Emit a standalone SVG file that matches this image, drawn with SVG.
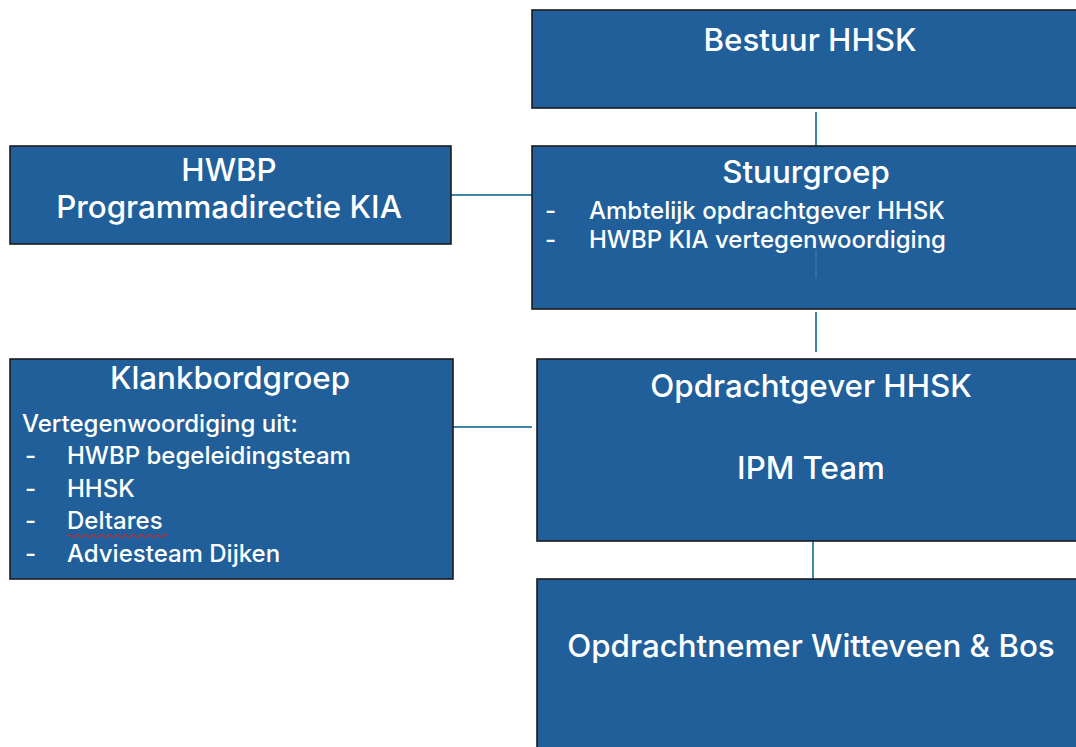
<svg xmlns="http://www.w3.org/2000/svg" width="1076" height="747" viewBox="0 0 1076 747">
<style>
.box{fill:#215f9a;stroke:#1c1c1c;stroke-width:1.6}
.t{font-family:Inter,"Liberation Sans",sans-serif;fill:#fff;font-weight:500}
.h{font-size:31.3px;text-anchor:middle}
.b{font-size:24px}
.c{stroke:#3f86a8;stroke-width:2;fill:none}
</style>
<rect width="1076" height="747" fill="#fff"/>
<g id="connectors">
<line class="c" x1="816" y1="112" x2="816" y2="146"/>
<line class="c" x1="451" y1="195" x2="532" y2="195"/>
<line class="c" x1="816" y1="312" x2="816" y2="352"/>
<line class="c" x1="453" y1="427" x2="532" y2="427"/>
<line class="c" x1="813" y1="541" x2="813" y2="579"/>
</g>
<g id="bestuur">
<rect class="box" x="532" y="10" width="560" height="98"/>
<text class="t h" x="810" y="51">Bestuur HHSK</text>
</g>
<g id="hwbp">
<rect class="box" x="10" y="146" width="441" height="98"/>
<text class="t h" x="229" y="181">HWBP</text>
<text class="t h" x="229" y="218">Programmadirectie KIA</text>
</g>
<g id="stuurgroep">
<rect class="box" x="532" y="146" width="560" height="163"/>
<line x1="816" y1="250" x2="816" y2="278" stroke="#3f86a8" stroke-width="1.5" opacity="0.6"/>
<text class="t h" x="806" y="183">Stuurgroep</text>
<text class="t b" x="545" y="219">-</text>
<text class="t b" x="589" y="219">Ambtelijk opdrachtgever HHSK</text>
<text class="t b" x="545" y="248">-</text>
<text class="t b" x="589" y="248">HWBP KIA vertegenwoordiging</text>
</g>
<g id="klankbordgroep">
<rect class="box" x="10" y="359" width="443" height="220"/>
<text class="t h" x="230" y="389">Klankbordgroep</text>
<text class="t b" x="22" y="432">Vertegenwoordiging uit:</text>
<text class="t b" x="25" y="464">-</text>
<text class="t b" x="67" y="464">HWBP begeleidingsteam</text>
<text class="t b" x="25" y="497">-</text>
<text class="t b" x="67" y="497">HHSK</text>
<text class="t b" x="25" y="529">-</text>
<text class="t b" x="67" y="529">Deltares</text>
<path d="M67 536 q2 -2.5 4 0 t4 0 t4 0 t4 0 t4 0 t4 0 t4 0 t4 0 t4 0 t4 0 t4 0 t4 0 t4 0 t4 0 t4 0 t4 0 t4 0 t4 0 t4 0 t4 0 t4 0 t4 0 t4 0 t4 0 t4 0" fill="none" stroke="#e02424" stroke-width="1.2"/>
<text class="t b" x="25" y="562">-</text>
<text class="t b" x="67" y="562">Adviesteam Dijken</text>
</g>
<g id="opdrachtgever">
<rect class="box" x="537" y="359" width="550" height="182"/>
<text class="t h" x="811" y="397">Opdrachtgever HHSK</text>
<text class="t h" x="811" y="479">IPM Team</text>
</g>
<g id="opdrachtnemer">
<rect class="box" x="537" y="579" width="550" height="180"/>
<text class="t h" x="811" y="657">Opdrachtnemer Witteveen &amp; Bos</text>
</g>
</svg>
